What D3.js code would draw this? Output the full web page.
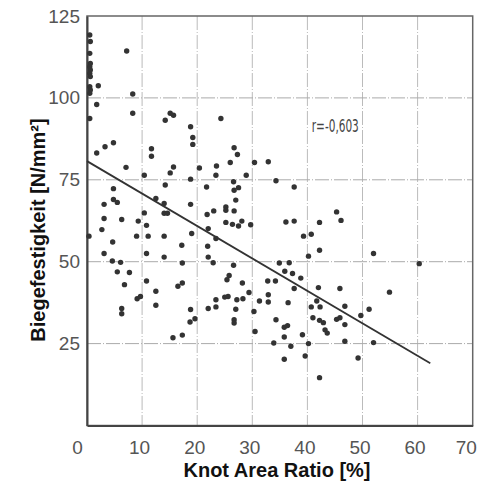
<!DOCTYPE html>
<html>
<head>
<meta charset="utf-8">
<script src="https://cdn.jsdelivr.net/npm/d3@7"></script>
<style>
    html, body { margin: 0; padding: 0; background: #fff; }
    svg { display: block; }
    .tick-label { font-family: "Liberation Sans", Arial, sans-serif; font-size: 19px; fill: #555; }
    .axis-title { font-family: "Liberation Sans", Arial, sans-serif; font-size: 20px; font-weight: bold; fill: #111; }
    .note { font-family: "Liberation Sans Narrow", "DejaVu Sans Condensed", sans-serif; font-size: 18px; fill: #444; }
</style>
</head>
<body>
<div id="chart"></div>
<script>
// knot area ratio [%] of each specimen
var knotRatio = [
    0.5, 0.6, 0.5, 0.6, 0.5, 0.6, 0.5, 0.6, 0.5, 0.6, 0.5, 0.5,
    2.05, 7.2, 1.76, 8.3, 8.3, 14.2, 15.1, 15.7, 1.76, 3.27, 4.8, 7.08, 11.7, 11.7, 10.4, 15.7, 15.1, 14.2,
    4.8, 4.8, 5.5, 3.1, 12.5, 14.0, 14.0, 14.6, 10.4,
    18.8, 19.2, 19.2, 24.3, 20.4, 18.8, 21.7, 23.5, 23.4, 26.0, 26.7, 27.3, 28.9, 30.4, 32.9, 34.3,
    26.6, 26.7, 27.5, 27.0, 18.8, 25.2, 25.2, 23.0, 21.8, 26.7,
    3.1, 6.3, 9.3, 10.8, 2.7, 0.36, 9.0, 11.1, 14.0, 4.66, 17.2, 3.1, 10.8, 14.0, 4.6, 6.1, 17.3,
    5.5, 7.7, 10.8, 6.8, 12.5, 16.5, 17.3, 9.1, 9.7, 12.5, 6.3, 6.3, 15.6, 17.3,
    25.2, 26.4, 27.5, 28.1, 29.7, 19.0, 22.0, 21.9, 23.4, 22.0, 22.9, 26.6, 25.8, 25.4, 28.2, 32.8, 34.2,
    29.4, 32.9, 32.9, 31.3, 25.0, 25.6, 23.4, 27.2, 28.3, 22.0, 23.4, 27.0, 30.3, 18.8, 19.6, 18.7,
    26.7, 26.7, 34.3, 30.5, 33.9,
    36.1, 37.6, 42.2, 45.3, 46.1, 39.3, 40.7, 40.2, 42.2, 34.9, 36.7, 35.9, 37.3, 38.8, 37.6, 42.0, 45.9,
    36.5, 41.7, 40.7, 42.3, 46.8, 51.2, 49.7, 35.8, 36.4, 41.0, 42.2, 42.9, 43.2, 43.6, 45.3, 45.9, 46.8,
    35.8, 39.1, 37.0, 40.2, 46.8, 52.0, 39.6, 35.8, 49.2, 42.2, 52.0,
    60.3, 54.9, 37.6
];

// bending strength [N/mm²] of each specimen
var strength = [
    119.2, 117.2, 113.6, 110.5, 109.5, 108.5, 107.5, 106.5, 103.4, 102.4, 101.4, 93.7,
    103.7, 114.3, 98.0, 101.2, 95.3, 93.2, 95.3, 94.7, 83.2, 85.1, 86.3, 78.8, 84.5, 82.2, 76.4, 78.9, 77.1, 73.4,
    72.3, 69.0, 68.1, 67.5, 69.3, 67.8, 64.8, 64.8, 64.9,
    91.2, 87.9, 85.8, 93.7, 78.6, 75.2, 72.8, 79.2, 76.4, 80.3, 84.8, 82.7, 76.4, 80.3, 80.5, 74.7,
    74.4, 71.8, 72.6, 68.8, 67.5, 66.7, 65.7, 65.5, 64.4, 65.5,
    63.2, 62.9, 62.4, 61.1, 59.8, 57.8, 57.8, 57.8, 57.8, 56.0, 55.0, 52.5, 52.5, 51.4, 50.2, 49.8, 49.6,
    46.9, 46.7, 44.1, 43.0, 41.0, 42.5, 43.5, 38.7, 39.4, 36.7, 35.7, 34.1, 26.8, 27.6,
    62.0, 61.4, 60.9, 62.4, 61.3, 58.6, 60.1, 54.7, 57.1, 51.4, 49.7, 48.9, 45.8, 44.5, 43.5, 44.1, 44.1,
    40.6, 39.9, 37.7, 38.0, 39.2, 39.4, 38.4, 38.4, 38.7, 35.7, 36.2, 35.5, 34.8, 35.4, 32.6, 31.6,
    32.3, 31.3, 32.3, 28.7, 25.2,
    62.1, 62.4, 62.0, 65.2, 62.6, 57.8, 58.4, 51.7, 53.5, 49.6, 49.7, 47.1, 46.4, 45.0, 41.8, 42.1, 41.8,
    37.5, 38.0, 36.2, 36.2, 36.4, 35.5, 33.6, 30.0, 30.5, 32.9, 32.1, 31.4, 29.2, 28.2, 32.4, 32.9, 30.8,
    27.0, 27.7, 24.2, 25.0, 25.7, 25.3, 21.2, 20.2, 20.6, 14.6, 52.5,
    49.4, 40.7, 72.8
];

// regression line end points
var fitX = [0, 62.3];
var fitY = [80.7, 19.0];

var xTicks = [0, 10, 20, 30, 40, 50, 60, 70];
var yTicks = [25, 50, 75, 100, 125];
var note = { x: 40.8, y: 89.5, text: 'r=-0,603' };

var W = 493, H = 486,
    margin = { top: 16, right: 20, bottom: 60, left: 87 },
    width = 472.7 - margin.left,
    height = 425.5 - margin.top;

var svg = d3.select('#chart').append('svg')
    .attr('width', W)
    .attr('height', H);

var g = svg.append('g')
    .attr('transform', 'translate(' + margin.left + ',' + margin.top + ')');

var x = d3.scaleLinear().domain([0, 70]).range([0, width]),
    y = d3.scaleLinear().domain([0, 125]).range([height, 0]);

// GRID
//
g.append('g').selectAll('line').data(xTicks.slice(1, -1))
    .enter().append('line')
    .attr('x1', function(d) { return x(d); })
    .attr('x2', function(d) { return x(d); })
    .attr('y1', 0)
    .attr('y2', height)
    .attr('stroke', '#bbb')
    .attr('stroke-width', 1)
    .attr('stroke-dasharray', '14,2,1,2');

g.append('g').selectAll('line').data(yTicks.slice(0, -1))
    .enter().append('line')
    .attr('x1', 0)
    .attr('x2', width)
    .attr('y1', function(d) { return y(d); })
    .attr('y2', function(d) { return y(d); })
    .attr('stroke', '#aaa')
    .attr('stroke-width', 1)
    .attr('stroke-dasharray', '14,2,1,2');

// FRAME
//
g.append('rect')
    .attr('width', width)
    .attr('height', height)
    .attr('fill', 'none')
    .attr('stroke', '#666')
    .attr('stroke-width', 1.5);

// AXES
//
var xAxis = g.append('g')
    .attr('transform', 'translate(0,' + height + ')')
    .call(d3.axisBottom(x).tickValues(xTicks).tickSize(0).tickPadding(10));

var yAxis = g.append('g')
    .call(d3.axisLeft(y).tickValues(yTicks).tickSize(0).tickPadding(7));

[xAxis, yAxis].forEach(function(a) {
    a.select('.domain').attr('stroke', '#444').attr('stroke-width', 2);
    a.selectAll('text').attr('class', 'tick-label').attr('font-size', null).attr('font-family', null).attr('fill', null);
});
xAxis.selectAll('text')
    .attr('dy', '0.95em')
    .attr('dx', function(d) { return d === 0 ? -10 : (d === 70 ? -7 : -3); });

// POINTS
//
g.append('g').selectAll('circle').data(knotRatio)
    .enter().append('circle')
    .attr('cx', function(d) { return x(d); })
    .attr('cy', function(d, i) { return y(strength[i]); })
    .attr('r', 2.7)
    .attr('fill', '#333');

// REGRESSION
//
g.append('line')
    .attr('x1', x(fitX[0])).attr('y1', y(fitY[0]))
    .attr('x2', x(fitX[1])).attr('y2', y(fitY[1]))
    .attr('stroke', '#333')
    .attr('stroke-width', 1.8);

g.append('text')
    .attr('class', 'note')
    .attr('x', x(note.x))
    .attr('y', y(note.y))
    .attr('textLength', 47)
    .attr('lengthAdjust', 'spacingAndGlyphs')
    .text(note.text);

// TITLES
//
svg.append('text')
    .attr('class', 'axis-title')
    .attr('x', 277)
    .attr('y', 477)
    .attr('text-anchor', 'middle')
    .text('Knot Area Ratio [%]');

svg.append('text')
    .attr('class', 'axis-title')
    .attr('transform', 'translate(45,230) rotate(-90)')
    .attr('text-anchor', 'middle')
    .text('Biegefestigkeit [N/mm²]');
</script>
</body>
</html>
